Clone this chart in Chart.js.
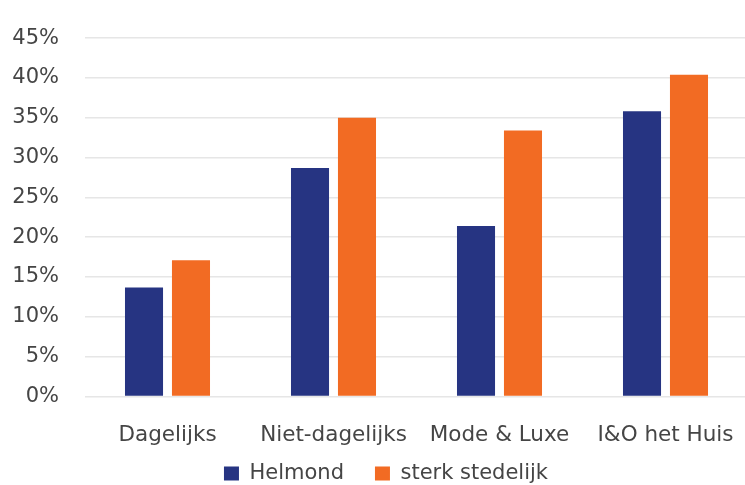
<!DOCTYPE html>
<html>
<head>
<meta charset="utf-8">
<script src="https://cdn.jsdelivr.net/npm/chart.js"></script>
<style>
  html, body { margin: 0; padding: 0; background: #fff; overflow: hidden; }
  #wrap { width: 752px; height: 485px; }
</style>
</head>
<body>
<div id="wrap"><canvas id="chart"></canvas></div>
<script>
const categories = ['Dagelijks', 'Niet-dagelijks', 'Mode & Luxe', 'I&O het Huis'];
const helmond = [13.7, 28.7, 21.4, 35.8];
const sterkStedelijk = [17.1, 35.0, 33.4, 40.4];
const yMax = 45;
const yStep = 5;

const textColor = '#454545';
const fontFamily = 'DejaVu Sans';

// move the legend to where the original had it (centre x 386, text centre y 472)
const legendShift = {
  id: 'legendShift',
  afterLayout(chart) {
    const lg = chart.legend;
    const dx = 386 - (lg.left + lg.right) / 2;
    const dy = 432 - lg.top;
    lg.left += dx;
    lg.right += dx;
    lg.top += dy;
    lg.bottom += dy;
  },
};

new Chart(document.getElementById('chart'), {
  type: 'bar',
  data: {
    labels: categories,
    datasets: [
      { label: 'Helmond', data: helmond, backgroundColor: '#263482' },
      { label: 'sterk stedelijk', data: sterkStedelijk, backgroundColor: '#F26B23' },
    ],
  },
  options: {
    responsive: true,
    maintainAspectRatio: false,
    animation: false,
    layout: { padding: { top: 27, right: 3.5, bottom: -27.5, left: 0 } },
    datasets: {
      bar: { categoryPercentage: 0.566, barPercentage: 0.81 },
    },
    plugins: {
      tooltip: { enabled: false },
      legend: {
        position: 'bottom',
        align: 'center',
        labels: {
          boxWidth: 15,
          boxHeight: 14,
          padding: 31,
          color: textColor,
          font: { family: fontFamily, size: 21 },
        },
      },
    },
    scales: {
      x: {
        grid: { display: false, drawTicks: false },
        border: { display: false },
        ticks: {
          color: textColor,
          padding: 26.5,
          maxRotation: 0,
          autoSkip: false,
          font: { family: fontFamily, size: 21.5 },
        },
        afterFit(scale) {
          scale.height = 54;
          scale.paddingLeft = 0;
          scale.paddingRight = 0;
        },
      },
      y: {
        min: 0,
        max: yMax,
        grid: { color: '#E6E6E6', lineWidth: 1.5, drawTicks: false },
        border: { display: false },
        ticks: {
          stepSize: yStep,
          padding: 25.5,
          color: textColor,
          font: { family: fontFamily, size: 21 },
          callback: (v) => `${v}%`,
        },
        afterFit(scale) { scale.width = 84.5; },
      },
    },
  },
  plugins: [legendShift],
});
</script>
</body>
</html>
